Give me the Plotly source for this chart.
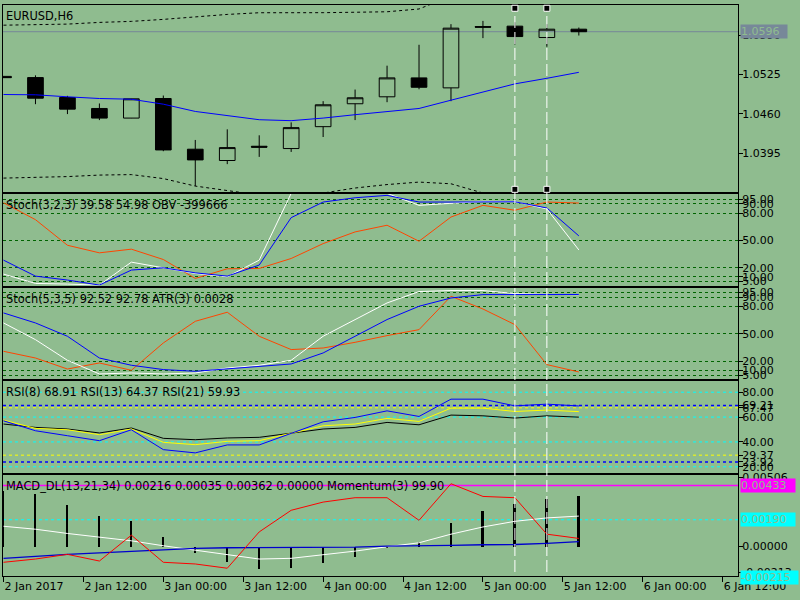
import plotly.graph_objects as go
from plotly.subplots import make_subplots

# bar index (H6 bars), tick labels of the time scale
bars = list(range(19))
tick_pos = [0, 2.5, 5, 7.5, 10, 12.5, 15, 17.5, 20, 22.5]
tick_text = ["2 Jan 2017", "2 Jan 12:00", "3 Jan 00:00", "3 Jan 12:00", "4 Jan 00:00",
             "4 Jan 12:00", "5 Jan 00:00", "5 Jan 12:00", "6 Jan 00:00", "6 Jan 12:00"]

# EURUSD H6 candles
opens = [1.05221, 1.05201, 1.04871, 1.04690, 1.04531, 1.04855, 1.04016, 1.03829, 1.04065, 1.04027,
         1.04389, 1.04768, 1.04883, 1.05196, 1.05031, 1.06045, 1.06052, 1.05864, 1.06002]
highs = [1.05221, 1.05238, 1.04899, 1.04773, 1.04852, 1.04904, 1.04169, 1.04345, 1.04246, 1.04460,
         1.04811, 1.05003, 1.05398, 1.05744, 1.06085, 1.06139, 1.06117, 1.06085, 1.06029]
lows = [1.05200, 1.04761, 1.04597, 1.04498, 1.04529, 1.03983, 1.03406, 1.03769, 1.03889, 1.03971,
        1.04218, 1.04498, 1.04794, 1.05008, 1.04811, 1.05854, 1.05749, 1.05711, 1.05897]
closes = [1.05200, 1.04860, 1.04679, 1.04531, 1.04850, 1.04004, 1.03839, 1.04043, 1.04050, 1.04373,
          1.04751, 1.04867, 1.05196, 1.05041, 1.06019, 1.06035, 1.05880, 1.06002, 1.05960]
ma = [1.04921, 1.04916, 1.04883, 1.04855, 1.04843, 1.04761, 1.04641, 1.04570, 1.04504, 1.04488,
      1.04531, 1.04587, 1.04636, 1.04690, 1.04827, 1.04965, 1.05097, 1.05189, 1.05288]
env_upper = [1.06068, 1.06076, 1.06086, 1.06114, 1.06131, 1.06164, 1.06205, 1.06246, 1.06274, 1.06271,
             1.06275, 1.06282, 1.06290, 1.06336, 1.06550, 1.06682, 1.06764, 1.06814, 1.06847]
env_lower = [1.03538, 1.03546, 1.03563, 1.03588, 1.03596, 1.03530, 1.03406, 1.03332, 1.03258, 1.03242,
             1.03291, 1.03374, 1.03431, 1.03472, 1.03444, 1.03291, 1.03209, 1.03143, 1.03094]

# Stoch(3,2,3) + OBV (scaled into the window)
st1_main = [13.1, 2.9, 2.2, 1.0, 26.2, 20.0, 13.8, 10.2, 28.4, 101.5,
            101.5, 101.5, 101.5, 88.4, 90.6, 92.8, 92.5, 84.4, 39.58]
st1_signal = [28.4, 10.9, 6.6, 1.1, 17.5, 20.0, 14.5, 10.9, 23.0, 74.9,
              92.0, 96.7, 99.3, 92.0, 92.0, 92.4, 92.3, 85.5, 54.98]
obv_scaled = [91.2, 72.7, 44.7, 36.4, 40.4, 29.1, 8.4, 18.9, 19.3, 30.2,
              46.5, 59.3, 66.6, 49.1, 75.6, 88.4, 83.0, 92.0, 90.9]

# Stoch(5,3,5) + ATR(3) (scaled into the window)
st2_main = [61.8, 43.6, 21.1, 6.2, 7.3, 6.2, 7.3, 12.7, 15.7, 21.1,
            47.3, 65.5, 83.6, 96.0, 97.1, 97.1, 93.8, 93.0, 92.52]
st2_signal = [72.7, 61.8, 47.3, 23.6, 15.7, 11.0, 9.1, 11.6, 14.6, 17.1,
              29.1, 47.3, 65.5, 80.0, 89.0, 92.7, 92.7, 92.7, 92.78]
atr_scaled = [30.9, 23.6, 11.6, 18.2, 10.2, 40.0, 63.6, 73.5, 47.3, 32.8,
              34.5, 40.7, 48.0, 54.5, 90.9, 77.0, 60.0, 16.4, 8.4]
stoch_levels = [5, 10, 20, 50, 80, 90, 95]

# RSI
rsi8 = [57.0, 49.0, 45.0, 41.0, 49.8, 33.8, 31.2, 37.6, 37.6, 47.2,
        56.2, 59.7, 65.0, 60.5, 74.4, 74.4, 69.0, 70.4, 68.91]
rsi13 = [57.6, 50.9, 49.8, 45.8, 50.4, 39.7, 37.8, 40.5, 41.0, 47.2,
         53.0, 54.4, 58.9, 56.5, 67.2, 67.2, 64.5, 65.6, 64.37]
rsi21 = [54.4, 51.7, 50.4, 47.2, 51.2, 42.9, 41.8, 43.2, 43.7, 47.2,
         50.4, 51.7, 55.7, 53.8, 61.6, 61.0, 59.2, 61.0, 59.93]
rsi_cyan_levels = [80, 60, 40, 20]
rsi_blue_levels = [69.21, 23.92]
rsi_yellow_levels = [67.47, 29.37]
rsi_ticks = [80, 69.21, 67.47, 60, 40, 29.37, 23.92, 20]

# MACD_DL + Momentum(3) (scaled into the window)
macd_hist = [0.00400, 0.00374, 0.00297, 0.00222, 0.00186, 0.00069, -0.00041, -0.00107, -0.00153, -0.00149,
             -0.00114, -0.00067, 0.00001, 0.00039, 0.00167, 0.00257, 0.00308, 0.00339, 0.00362]
macd_main = [0.00144, 0.00123, 0.00093, 0.00065, 0.00041, 0.00006, -0.00025, -0.00060, -0.00088, -0.00083,
             -0.00060, -0.00032, -0.00001, 0.00027, 0.00088, 0.00139, 0.00179, 0.00203, 0.00216]
macd_signal = [-0.00083, -0.00067, -0.00055, -0.00044, -0.00032, -0.00023, -0.00013, -0.00008, -0.00008, -0.00008,
               -0.00004, -0.00004, 0.00004, 0.00004, 0.00008, 0.00013, 0.00015, 0.00023, 0.00035]
momentum_scaled = [-0.00111, -0.00088, -0.00055, -0.00102, 0.00081, -0.00111, -0.00123, -0.00153, 0.00104, 0.00257,
                   0.00315, 0.00346, 0.00346, 0.00186, 0.00445, 0.00355, 0.00346, 0.00088, 0.00058]
macd_magenta = 0.00433
macd_cyan = 0.00190
macd_low = -0.00215

vlines = [16, 17]

BG = "#8FBC8F"
FONT = "DejaVu Sans"

fig = make_subplots(rows=5, cols=1, shared_xaxes=True, vertical_spacing=0.004)

fig.add_trace(go.Candlestick(
    x=bars, open=opens, high=highs, low=lows, close=closes,
    increasing=dict(line=dict(color="black", width=1), fillcolor="rgba(0,0,0,0)"),
    decreasing=dict(line=dict(color="black", width=1), fillcolor="black"),
    whiskerwidth=0, hoverinfo="skip"), row=1, col=1)
fig.add_trace(go.Scatter(x=bars, y=ma, mode="lines", line=dict(color="#0000FF", width=1)), row=1, col=1)
for env in (env_upper, env_lower):
    fig.add_trace(go.Scatter(x=bars, y=env, mode="lines",
                             line=dict(color="black", width=1, dash="3px,3px")), row=1, col=1)

fig.add_trace(go.Scatter(x=bars, y=obv_scaled, mode="lines", line=dict(color="#FF4500", width=1)), row=2, col=1)
fig.add_trace(go.Scatter(x=bars, y=st1_main, mode="lines", line=dict(color="white", width=1)), row=2, col=1)
fig.add_trace(go.Scatter(x=bars, y=st1_signal, mode="lines", line=dict(color="#0000FF", width=1)), row=2, col=1)

fig.add_trace(go.Scatter(x=bars, y=atr_scaled, mode="lines", line=dict(color="#FF4500", width=1)), row=3, col=1)
fig.add_trace(go.Scatter(x=bars, y=st2_main, mode="lines", line=dict(color="white", width=1)), row=3, col=1)
fig.add_trace(go.Scatter(x=bars, y=st2_signal, mode="lines", line=dict(color="#0000FF", width=1)), row=3, col=1)

fig.add_trace(go.Scatter(x=bars, y=rsi21, mode="lines", line=dict(color="black", width=1)), row=4, col=1)
fig.add_trace(go.Scatter(x=bars, y=rsi13, mode="lines", line=dict(color="#FFFF00", width=1)), row=4, col=1)
fig.add_trace(go.Scatter(x=bars, y=rsi8, mode="lines", line=dict(color="#0000FF", width=1)), row=4, col=1)

fig.add_trace(go.Bar(x=bars, y=macd_hist, width=0.06, marker=dict(color="black", line=dict(width=0))), row=5, col=1)
fig.add_trace(go.Scatter(x=bars, y=macd_main, mode="lines", line=dict(color="white", width=1)), row=5, col=1)
fig.add_trace(go.Scatter(x=bars, y=macd_signal, mode="lines", line=dict(color="#0000CD", width=1.3)), row=5, col=1)
fig.add_trace(go.Scatter(x=bars, y=momentum_scaled, mode="lines", line=dict(color="#FF0000", width=1)), row=5, col=1)

# panel domains (pixel rows 2-190, 192-284, 286-378, 380-472, 474-576)
domains = [[0.6725, 1.0], [0.5087, 0.6690], [0.3449, 0.5052], [0.1812, 0.3415], [0.0, 0.1777]]
ranges = [[1.03308, 1.06402], [0.6, 100.8], [0.66, 100.4], [15.4, 89.0], [-0.00208, 0.00510]]

axis_common = dict(showline=True, mirror=True, linecolor="black", linewidth=1, zeroline=False,
                   tickfont=dict(family=FONT, size=11, color="black"))
for i in range(5):
    n = "" if i == 0 else str(i + 1)
    fig.layout["yaxis" + n].update(domain=domains[i], range=ranges[i], side="right", ticks="outside",
                                   ticklen=4, tickcolor="black", showgrid=False, ticklabelstandoff=-3,
                                   **axis_common)
    fig.layout["xaxis" + n].update(range=[-0.016, 22.98], showgrid=False, ticks="",
                                   showticklabels=False, **axis_common)

fig.layout.yaxis.update(tickvals=[1.0590, 1.0525, 1.0460, 1.0395], tickformat=".4f")
for ax in (fig.layout.yaxis2, fig.layout.yaxis3):
    ax.update(tickvals=stoch_levels, tickformat=".2f", showgrid=True, gridcolor="#006400",
              gridwidth=1, griddash="3px,3px")
fig.layout.yaxis4.update(tickvals=rsi_ticks, tickformat=".2f")
fig.layout.yaxis5.update(tickvals=[0.0049, 0.0, -0.0018],
                         ticktext=["0.00506", "0.00000", "-0.00213"])
fig.layout.xaxis5.update(tickvals=tick_pos, ticktext=tick_text, showticklabels=True, ticks="outside",
                         ticklen=5, tickcolor="black", ticklabelposition="outside right")

shapes = []
# price line
shapes.append(dict(type="line", xref="x domain", x0=0, x1=1, yref="y", y0=closes[-1], y1=closes[-1],
                   line=dict(color="#778899", width=1), layer="below"))
for lv in rsi_cyan_levels:
    shapes.append(dict(type="line", xref="x4 domain", x0=0, x1=1, yref="y4", y0=lv, y1=lv,
                       line=dict(color="#00FFFF", width=1, dash="3px,3px"), layer="below"))
for lv in rsi_blue_levels:
    shapes.append(dict(type="line", xref="x4 domain", x0=0, x1=1, yref="y4", y0=lv, y1=lv,
                       line=dict(color="#0000FF", width=1.5, dash="3px,3px"), layer="below"))
for lv in rsi_yellow_levels:
    shapes.append(dict(type="line", xref="x4 domain", x0=0, x1=1, yref="y4", y0=lv, y1=lv,
                       line=dict(color="#FFFF00", width=1, dash="3px,3px"), layer="below"))
shapes.append(dict(type="line", xref="x5 domain", x0=0, x1=1, yref="y5", y0=macd_magenta, y1=macd_magenta,
                   line=dict(color="#FF00FF", width=1.5), layer="below"))
shapes.append(dict(type="line", xref="x5 domain", x0=0, x1=1, yref="y5", y0=macd_cyan, y1=macd_cyan,
                   line=dict(color="#00FFFF", width=1, dash="3px,3px"), layer="below"))
# vertical lines across all windows with their handles
for v in vlines:
    shapes.append(dict(type="line", xref="x", x0=v, x1=v, yref="paper", y0=0.007, y1=0.994,
                       line=dict(color="white", width=1, dash="12px,4px"), layer="above"))
    for ya in (0.9943, 0.6772):
        shapes.append(dict(type="rect", xref="x", xsizemode="pixel", xanchor=v, x0=-3, x1=3,
                           yref="paper", ysizemode="pixel", yanchor=ya, y0=-3, y1=3,
                           fillcolor="black", line=dict(color="white", width=1), layer="above"))

annotations = []
headers = ["EURUSD,H6",
           "Stoch(3,2,3) 39.58 54.98 OBV -399666",
           "Stoch(5,3,5) 92.52 92.78 ATR(3) 0.0028",
           "RSI(8) 68.91 RSI(13) 64.37 RSI(21) 59.93",
           "MACD_DL(13,21,34) 0.00216 0.00035 0.00362 0.00000 Momentum(3) 99.90"]
for i, h in enumerate(headers):
    yref = "y domain" if i == 0 else "y%d domain" % (i + 1)
    annotations.append(dict(text=h, xref="paper", x=0, xanchor="left", xshift=1, yref=yref, y=1,
                            yanchor="top", yshift=-2, showarrow=False,
                            font=dict(family=FONT, size=11.4, color="black")))

# value boxes on the price scale
boxes = [("y", closes[-1], "%.4f" % closes[-1], "#778899", 46),
         ("y5", macd_magenta, "%.5f" % macd_magenta, "#FF00FF", 54),
         ("y5", macd_cyan, "%.5f" % macd_cyan, "#00FFFF", 54)]
for yref, val, txt, col, w in boxes:
    annotations.append(dict(text=txt, xref="paper", x=1, xanchor="left", xshift=2, yref=yref, y=val,
                            yanchor="middle", showarrow=False, bgcolor=col, width=w, height=13,
                            align="left", borderpad=0,
                            font=dict(family=FONT, size=11, color=BG)))
# the low box sits on the bottom edge of the MACD window
annotations.append(dict(text="%.5f" % macd_low, xref="paper", x=1, xanchor="left", xshift=2,
                        yref="y5 domain", y=0, yanchor="middle", yshift=-1, showarrow=False,
                        bgcolor="#00FFFF", width=57, height=13, align="left", borderpad=0,
                        font=dict(family=FONT, size=11, color=BG)))

fig.update_layout(
    width=800, height=600,
    margin=dict(l=2, r=62, t=2, b=24),
    paper_bgcolor=BG, plot_bgcolor=BG,
    showlegend=False, shapes=shapes, annotations=annotations,
    font=dict(family=FONT, size=11, color="black"),
    xaxis_rangeslider_visible=False,
    bargap=0,
)

# drop the browser's default page margin so the figure sits at the window corner
fig.write_html("out.html", config={"displayModeBar": False},
               post_script="document.body.style.margin='0px';")
